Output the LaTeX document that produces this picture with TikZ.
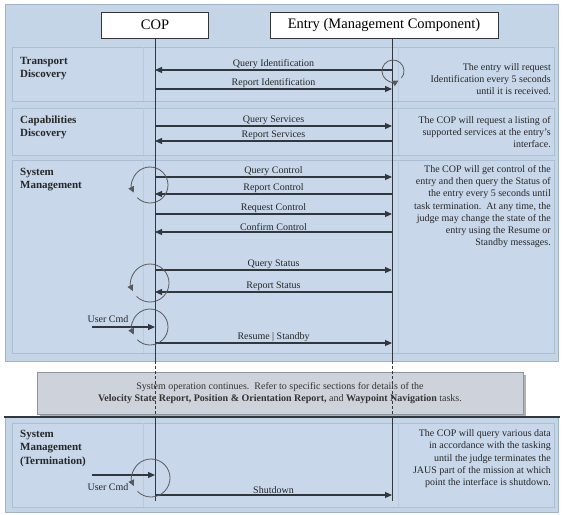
\documentclass[tikz,border=0pt]{standalone}
\usepackage{fontspec}
\setmainfont{Liberation Serif}
\usetikzlibrary{arrows.meta}

\definecolor{panelblue}{RGB}{197,213,232}
\definecolor{panelline}{RGB}{160,178,200}
\definecolor{secblue}{RGB}{200,216,234}
\definecolor{secline}{RGB}{172,190,212}
\definecolor{notegray}{RGB}{206,211,219}
\definecolor{noteline}{RGB}{140,148,158}
\definecolor{wire}{RGB}{50,55,62}

\tikzset{
  panel/.style={fill=panelblue, draw=panelline, line width=0.6pt},
  section/.style={fill=secblue, draw=secline, line width=0.6pt},
  header/.style={draw=wire, fill=white, line width=0.8pt, inner sep=0pt, minimum height=26pt, font=\fontsize{14.5}{17}\selectfont},
  lifeline/.style={draw=wire, line width=0.8pt},
  msg/.style={draw=wire, line width=1.1pt, -{Triangle[length=7pt,width=6pt]}},
  msgtext/.style={above, inner sep=1pt, font=\fontsize{10}{12}\selectfont, text=black!85},
  loopback/.style={draw=gray!70!black, line width=0.8pt, -{Triangle[length=6pt,width=6pt]}},
  phase/.style={anchor=north west, inner sep=0pt, align=left, font=\fontsize{11}{13.5}\selectfont\bfseries, text=black!85},
  note/.style={anchor=north east, inner sep=0pt, align=right, font=\fontsize{10}{12.2}\selectfont, text=black!85},
}

\begin{document}
\begin{tikzpicture}[x=1pt, y=-1pt]
\useasboundingbox (0,0) rectangle (564,514);

% panels and sections
\draw[panel] (5,4) rectangle (558,361);
\draw[section] (12,47) rectangle (554,101);
\draw[section] (12,108) rectangle (554,155);
\draw[section] (12,160) rectangle (554,353);
\draw[panel] (5,417) rectangle (558,512);
\draw[section] (12,423) rectangle (554,507);
\foreach \top/\bot in {47/101, 108/155, 160/353, 423/507}
  \draw[secline!50!secblue] (143,\top) -- (143,\bot) (398,\top) -- (398,\bot);

% note between the panels
\fill[gray!60] (40,375) rectangle (526,416);
\node[draw=noteline, fill=notegray, minimum width=486pt, minimum height=42pt, inner sep=0pt,
      align=center, font=\fontsize{10}{12}\selectfont, text=black!80] (cont) at (280,393)
  {System operation continues.\ \ Refer to specific sections for details of the\\
   \textbf{Velocity State Report, Position \& Orientation Report,} and \textbf{Waypoint Navigation} tasks.};
\draw[wire, line width=1.8pt] (4,417) -- (560,417);

% headers and lifelines
\node[header, minimum width=107pt] (cop) at (155,25) {COP};
\node[header, minimum width=228pt] (entry) at (384,25) {Entry (Management Component)};
\coordinate (cop end) at (155,501);
\coordinate (entry top) at (392,38);
\coordinate (entry end) at (392,501);
\draw[lifeline] (cop.south) -- (155,361) (155,417) -- (cop end);
\draw[lifeline] (entry top) -- (392,361) (392,417) -- (entry end);
\draw[lifeline, dash pattern=on 3pt off 2pt] (155,361) -- (155,417) (392,361) -- (392,417);

% message end points on the lifelines
\foreach \n/\y in {qi/70, ri/89, qs/126, rs/141, qc/177, rc/194, rq/214, cc/232,
                   qt/270, rt/292, uc/327, rm/343, ut/475, sd/495}{
  \coordinate (c\n) at (155,\y);
  \coordinate (e\n) at (392,\y);
}
\coordinate (user1) at (92,327);
\coordinate (user2) at (92,475);

% phase labels
\node[phase] (tdisc) at (20,57) {Transport\\Discovery};
\node[phase] (cdisc) at (20,115.5) {Capabilities\\Discovery};
\node[phase] (smgmt) at (20,168) {System\\Management};
\node[phase] (sterm) at (20,430) {System\\Management\\(Termination)};

% messages
\draw[msg] (eqi) -- (cqi) node[msgtext, midway] {Query Identification};
\draw[msg] (cri) -- (eri) node[msgtext, midway] {Report Identification};
\draw[msg] (cqs) -- (eqs) node[msgtext, midway] {Query Services};
\draw[msg] (ers) -- (crs) node[msgtext, midway] {Report Services};
\draw[msg] (cqc) -- (eqc) node[msgtext, midway] {Query Control};
\draw[msg] (erc) -- (crc) node[msgtext, midway] {Report Control};
\draw[msg] (crq) -- (erq) node[msgtext, midway] {Request Control};
\draw[msg] (ecc) -- (ccc) node[msgtext, midway] {Confirm Control};
\draw[msg] (cqt) -- (eqt) node[msgtext, midway] {Query Status};
\draw[msg] (ert) -- (crt) node[msgtext, midway] {Report Status};
\draw[msg] (user1) -- (cuc);
\node[msgtext, anchor=center] (ucmd1) at (108,319) {User Cmd};
\draw[msg] (crm) -- (erm) node[msgtext, midway] {Resume | Standby};
\draw[msg] (user2) -- (cut);
\node[msgtext, anchor=center] (ucmd2) at (108,487) {User Cmd};
\draw[msg] (csd) -- (esd) node[msgtext, midway] {Shutdown};

% repeat loops
\draw[loopback] (393,71) ++(320:11pt) arc[start angle=320, end angle=660, radius=11pt];
\foreach \cx/\cy/\r in {150/185/18, 150/283/19, 150/327/18, 151/478/19}
  \draw[loopback] (\cx,\cy) ++(225:\r pt) arc[start angle=225, end angle=565, radius=\r pt];

% notes
\node[note] (n1) at (551,63.3) {The entry will request\\Identification every 5 seconds\\until it is received.};
\node[note] (n2) at (551,116) {The COP will request a listing of\\supported services at the entry's\\interface.};
\node[note] (n3) at (551,165.3) {The COP will get control of the\\entry and then query the Status of\\the entry every 5 seconds until\\task termination.\ \ At any time, the\\judge may change the state of the\\entry using the Resume or\\Standby messages.};
\node[note] (n4) at (551,429.6) {The COP will query various data\\in accordance with the tasking\\until the judge terminates the\\JAUS part of the mission at which\\point the interface is shutdown.};
\end{tikzpicture}
\end{document}
